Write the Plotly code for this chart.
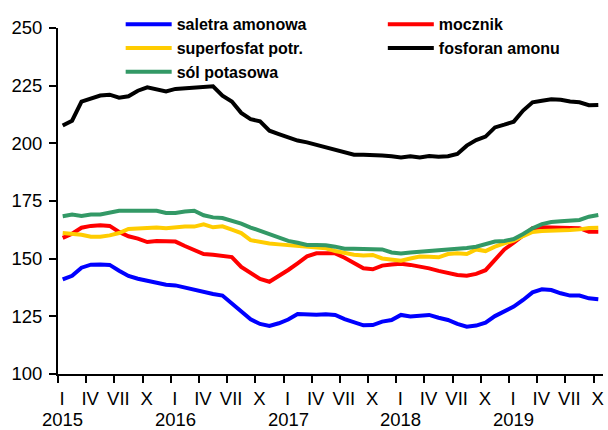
import plotly.graph_objects as go

# Monthly index values, January 2015 - October 2019
month_index = list(range(58))
quarter_labels = ["I", "IV", "VII", "X"]
year_labels = ["2015", "2016", "2017", "2018", "2019"]

saletra_amonowa = [
    141.0, 142.6, 146.1, 147.4, 147.5, 147.3, 144.8, 142.5, 141.3, 140.3, 139.5, 138.7,
    138.4, 137.4, 136.7, 135.7, 134.7, 134.0, 130.6, 127.0, 123.7, 121.7, 120.8, 122.0,
    123.6, 126.0, 125.7, 125.7, 125.9, 125.6, 123.8, 122.4, 121.1, 121.2, 122.7, 123.4,
    125.6, 124.9, 125.1, 125.6, 124.4, 123.4, 121.7, 120.5, 121.0, 122.3, 125.1, 127.3,
    129.2, 132.1, 135.4, 136.7, 136.4, 135.0, 134.0, 134.0, 132.8, 132.4,
]
mocznik = [
    159.0, 160.8, 163.4, 164.2, 164.5, 164.2, 161.6, 159.7, 158.7, 157.2, 157.7, 157.4,
    157.4, 155.5, 153.6, 152.0, 151.7, 151.4, 150.7, 146.4, 143.6, 141.2, 140.0, 142.4,
    145.1, 148.0, 151.0, 152.3, 152.4, 152.3, 150.4, 148.2, 145.8, 145.4, 147.0, 147.5,
    147.8, 147.3, 146.7, 145.8, 144.7, 143.7, 142.9, 142.6, 143.4, 145.0, 149.5, 154.0,
    156.9, 160.3, 163.2, 163.6, 163.6, 163.4, 163.3, 163.2, 161.7, 161.7,
]
superfosfat = [
    161.1, 160.7, 160.4, 159.5, 159.5, 160.1, 161.1, 162.9, 163.2, 163.5, 163.5, 163.2,
    163.7, 163.9, 163.9, 164.9, 163.6, 164.0, 162.6, 161.1, 158.0, 157.2, 156.6, 156.2,
    155.9, 155.6, 155.5, 155.2, 154.5, 153.3, 152.3, 151.7, 151.4, 151.6, 150.1, 149.4,
    149.1, 150.1, 150.9, 150.8, 150.6, 152.0, 152.3, 152.0, 154.0, 153.3, 155.2, 156.6,
    157.8, 159.8, 161.6, 162.0, 162.0, 162.1, 162.4, 162.7, 163.3, 163.4,
]
fosforan_amonu = [
    207.7, 209.8, 218.1, 219.5, 220.7, 221.1, 219.8, 220.4, 222.8, 224.3, 223.6, 222.5,
    223.6, 223.8, 224.1, 224.1, 224.7, 220.7, 218.1, 213.2, 210.5, 209.5, 205.5, 204.0,
    202.6, 201.2, 200.4, 199.3, 198.0, 197.1, 195.8, 195.1, 195.1, 195.1, 194.7, 194.4,
    193.9, 194.4, 193.9, 194.5, 194.2, 194.4, 195.4, 199.0, 201.4, 202.9, 206.9, 208.1,
    209.4, 214.2, 217.8, 218.5, 219.1, 218.9, 218.1, 217.8, 216.5, 216.6,
]
sol_potasowa = [
    168.4, 169.1, 168.5, 169.1, 169.2, 169.9, 170.8, 170.8, 170.7, 170.7, 170.8, 169.8,
    169.8, 170.4, 170.8, 168.8, 167.9, 167.6, 166.5, 165.2, 163.5, 162.0, 160.7, 158.8,
    157.7, 156.9, 155.9, 155.9, 155.8, 155.2, 154.3, 154.3, 154.2, 153.8, 154.0, 152.7,
    152.2, 152.7, 153.0, 153.6, 153.5, 153.9, 154.5, 154.6, 155.2, 156.2, 157.4, 157.7,
    158.5, 160.7, 163.2, 165.0, 165.9, 166.2, 166.5, 166.8, 168.2, 168.9,
]

# (name, values, colour, legend column)
series = [
    ("saletra amonowa", saletra_amonowa, "#0000FF", "legend"),
    ("mocznik", mocznik, "#FF0000", "legend2"),
    ("superfosfat potr.", superfosfat, "#FFCC00", "legend"),
    ("fosforan amonu", fosforan_amonu, "#000000", "legend2"),
    ("sól potasowa", sol_potasowa, "#339966", "legend"),
]

fig = go.Figure()
for name, values, color, leg in series:
    fig.add_trace(go.Scatter(
        x=month_index, y=values, name=name, mode="lines",
        line=dict(color=color, width=4), legend=leg,
    ))

# quarter ticks sit on month boundaries, labels on the first month of each quarter
tick_pos = [m - 0.5 for m in month_index[::3]]
tick_text = [quarter_labels[k % 4] for k in range(len(tick_pos))]

font_main = "Liberation Sans, Arial, sans-serif"
tick_size = 18.5
legend_font = dict(family=font_main, size=16, color="black", weight="bold")

fig.update_layout(
    width=608, height=430,
    margin=dict(l=58, r=5, t=28, b=56),
    paper_bgcolor="white", plot_bgcolor="white",
    font=dict(family=font_main, size=tick_size, color="black"),
    showlegend=True,
    legend=dict(
        orientation="v", x=0.115, y=1.06, xanchor="left", yanchor="top",
        bgcolor="rgba(0,0,0,0)", itemwidth=46, font=legend_font,
    ),
    legend2=dict(
        orientation="v", x=0.596, y=1.06, xanchor="left", yanchor="top",
        bgcolor="rgba(0,0,0,0)", itemwidth=46, font=legend_font,
    ),
    xaxis=dict(
        range=[-0.5, 57.5], tickmode="array", tickvals=tick_pos, ticktext=tick_text,
        ticks="outside", ticklen=7, tickwidth=2, tickcolor="black",
        showline=True, linecolor="black", linewidth=2,
        showgrid=False, zeroline=False, ticklabelshift=4,
        tickfont=dict(size=tick_size),
    ),
    yaxis=dict(
        range=[100, 250], tickmode="array", tickvals=[100, 125, 150, 175, 200, 225, 250],
        ticks="outside", ticklen=7, tickwidth=2, tickcolor="black",
        showline=True, linecolor="black", linewidth=2, ticklabelstandoff=3,
        showgrid=False, zeroline=False, tickfont=dict(size=tick_size),
    ),
)

for k, year in enumerate(year_labels):
    fig.add_annotation(
        x=month_index[12 * k], y=-0.131, xref="x", yref="paper",
        text=year, showarrow=False, xanchor="center", yanchor="middle",
        font=dict(family=font_main, size=tick_size, color="black"),
    )

fig.write_html("out.html")
